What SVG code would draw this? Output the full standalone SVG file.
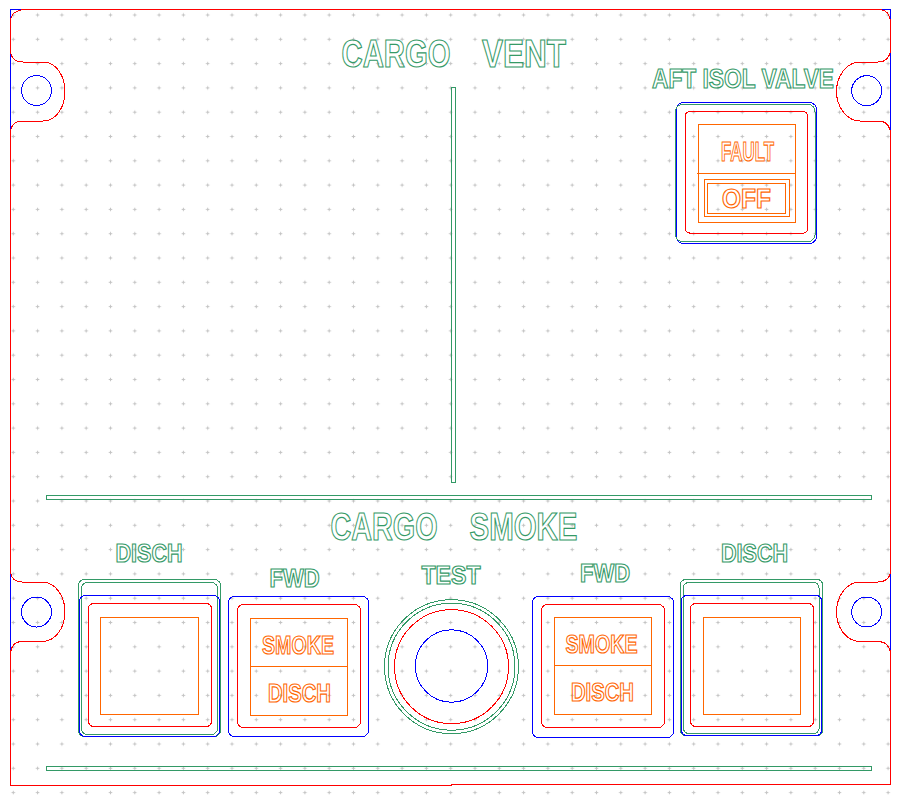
<svg xmlns="http://www.w3.org/2000/svg" width="905" height="796" viewBox="0 0 905 796">
<style>
.r,.b,.g,.o{fill:none;stroke-width:1;shape-rendering:crispEdges}
.r{stroke:#ff0000}.b{stroke:#0000ff}.g{stroke:#339966}.o{stroke:#ff6600}
.tg,.to{font-family:"Liberation Sans",Arial,sans-serif;font-weight:bold;fill:none;stroke-width:1.2;opacity:.99}
.tg{stroke:#339966}.to{stroke:#ff6600}
</style>
<defs>
<pattern id="dots" x="1.15" y="2.85" width="24.3" height="24.3" patternUnits="userSpaceOnUse">
<path d="M10.4 12.15h3.5M12.15 10.4v3.5" stroke="#c4c4c4" stroke-width="1.1" fill="none"/>
</pattern>
</defs>
<rect width="905" height="796" fill="#fff"/>
<rect id="grid" x="10" y="12" width="885" height="784" fill="url(#dots)"/>
<g id="panel">
<path class="b" d="M24 9.5H10.5V21M10.5 50V133M10.5 572V653M890.5 50V133M890.5 572V653M880 9.5H890.5V21"/>
<path class="r" d="M24 9.5Q11 11 10.5 21V50Q11 62 23 62H43C57 62 65 77 65 91.5S57 121 43 121H23Q11 121 10.5 133V572Q12 582 22 582H42C56 582 65 597 65 612S56 641.5 42 641.5H22Q12 641.5 10.5 653V785.5H451V784.5H890.5V653Q889 641.5 878 641.5H860C846 641.5 836.5 627 836.5 612S846 582 860 582H878Q889 582 890.5 572V133Q889 121 878 121H860C846 121 836.5 106 836.5 91.5S846 62 860 62H878Q889 62 890.5 50V21Q889 10 880 9.5H24"/>
<circle class="b" cx="36.5" cy="90.5" r="15"/>
<circle class="b" cx="36.5" cy="612" r="15"/>
<circle class="b" cx="866.7" cy="90.7" r="15"/>
<circle class="b" cx="866.7" cy="612" r="15"/>
<rect class="g" x="46.5" y="495.5" width="825" height="4"/>
<rect class="g" x="46.5" y="766.5" width="825" height="4"/>
<rect class="g" x="451.5" y="87.5" width="4" height="394.5"/>
</g>
<g id="title-vent"><text class="tg" font-size="38" x="341.5" y="67" textLength="109" lengthAdjust="spacingAndGlyphs">CARGO</text><text class="tg" font-size="38" x="482" y="67" textLength="84" lengthAdjust="spacingAndGlyphs">VENT</text></g>
<g id="title-smoke"><text class="tg" font-size="38" x="330.5" y="540" textLength="107" lengthAdjust="spacingAndGlyphs">CARGO</text><text class="tg" font-size="38" x="469.5" y="540" textLength="108" lengthAdjust="spacingAndGlyphs">SMOKE</text></g>
<g id="aft-isol-valve">
<text class="tg" font-size="27" x="652" y="88" textLength="182" lengthAdjust="spacingAndGlyphs">AFT ISOL VALVE</text>
<rect class="b" x="676.5" y="102.5" width="140" height="141" rx="7"/>
<rect class="g" x="675.5" y="104.5" width="139.5" height="137" rx="7"/>
<rect class="r" x="685.5" y="111.5" width="122" height="121.5" rx="4"/>
<rect class="o" x="698.5" y="124.5" width="97" height="98"/>
<path class="o" d="M697 173.5H796"/>
<rect class="o" x="704.5" y="179.5" width="85" height="37"/>
<rect class="o" x="707.5" y="183.5" width="78" height="30"/>
<text class="to" font-size="27" x="721" y="161" textLength="53" lengthAdjust="spacingAndGlyphs">FAULT</text>
<text class="to" font-size="27" x="722" y="208" textLength="49" lengthAdjust="spacingAndGlyphs">OFF</text>
</g>
<g id="disch-left">
<text class="tg" font-size="25" x="115.5" y="562" textLength="67" lengthAdjust="spacingAndGlyphs">DISCH</text>
<rect class="g" x="78.5" y="579.5" width="142" height="157" rx="6"/>
<rect class="g" x="81.5" y="582.5" width="136" height="152" rx="6"/>
<rect class="b" x="79.5" y="595.5" width="140" height="141" rx="6"/>
<rect class="r" x="88.5" y="603.5" width="123" height="123" rx="5"/>
<rect class="o" x="100.5" y="617.5" width="98" height="97"/>
</g>
<g id="fwd-left">
<text class="tg" font-size="25" x="269.5" y="587" textLength="50" lengthAdjust="spacingAndGlyphs">FWD</text>
<rect class="b" x="228.5" y="596.5" width="140" height="140" rx="6"/>
<rect class="r" x="237.5" y="604.5" width="123" height="123" rx="6"/>
<rect class="o" x="250.5" y="618.5" width="97" height="97"/>
<path class="o" d="M250.5 666.5H347.5"/>
<text class="to" font-size="25" x="262" y="654" textLength="72" lengthAdjust="spacingAndGlyphs">SMOKE</text>
<text class="to" font-size="25" x="268" y="702" textLength="63" lengthAdjust="spacingAndGlyphs">DISCH</text>
</g>
<g id="test">
<text class="tg" font-size="25" x="421.5" y="584" textLength="59" lengthAdjust="spacingAndGlyphs">TEST</text>
<circle class="g" cx="451.5" cy="666.7" r="67"/>
<circle class="g" cx="451.5" cy="666.7" r="63.5"/>
<circle class="r" cx="451.5" cy="666.7" r="57"/>
<circle class="b" cx="451.5" cy="666" r="36.2"/>
</g>
<g id="fwd-right">
<text class="tg" font-size="25" x="580" y="582" textLength="50" lengthAdjust="spacingAndGlyphs">FWD</text>
<rect class="b" x="532.5" y="596.5" width="141" height="141" rx="6"/>
<rect class="r" x="541.5" y="604.5" width="123" height="123" rx="6"/>
<rect class="o" x="554.5" y="617.5" width="97" height="97"/>
<path class="o" d="M554.5 665.5H651.5"/>
<text class="to" font-size="25" x="565.5" y="653" textLength="72" lengthAdjust="spacingAndGlyphs">SMOKE</text>
<text class="to" font-size="25" x="571" y="701" textLength="63" lengthAdjust="spacingAndGlyphs">DISCH</text>
</g>
<g id="disch-right">
<text class="tg" font-size="25" x="721" y="562" textLength="67" lengthAdjust="spacingAndGlyphs">DISCH</text>
<rect class="g" x="680.5" y="579.5" width="142" height="156" rx="5"/>
<rect class="g" x="683.5" y="582.5" width="135.5" height="151" rx="5"/>
<rect class="b" x="681.5" y="595.5" width="140" height="140" rx="5"/>
<rect class="r" x="690.5" y="603.5" width="123" height="123" rx="5"/>
<rect class="o" x="703.5" y="617.5" width="97" height="97"/>
</g>
</svg>
